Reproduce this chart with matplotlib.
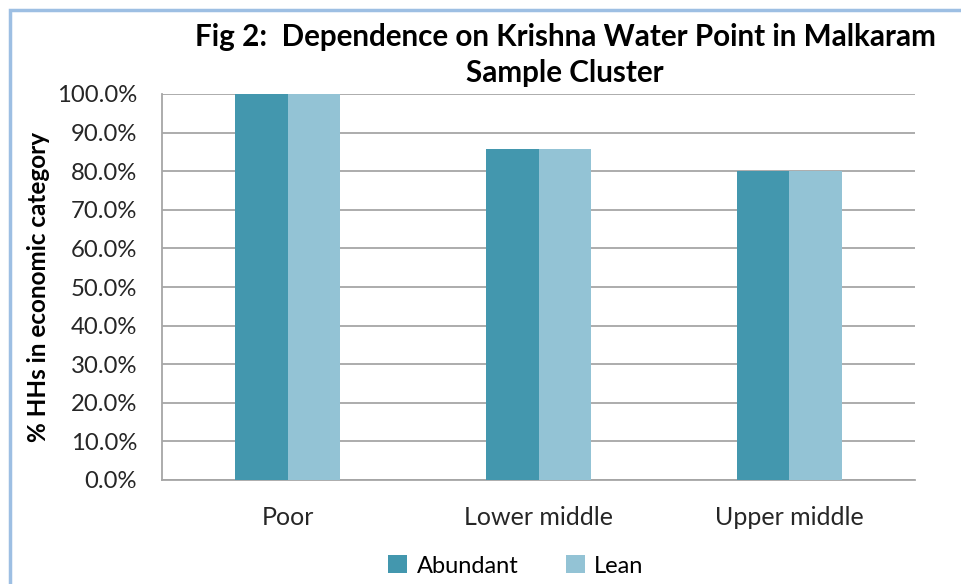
import numpy as np
import matplotlib
matplotlib.use("Agg")
import matplotlib.pyplot as plt
from matplotlib.patches import Rectangle

plt.rcParams['font.family'] = ['Lato', 'DejaVu Sans']

# Veriler
kategoriler = ["Poor", "Lower middle", "Upper middle"]
abundant = [100.0, 85.7, 80.0]
lean = [100.0, 85.7, 80.0]
y_ticks = [0, 10, 20, 30, 40, 50, 60, 70, 80, 90, 100]

fig = plt.figure(figsize=(9.62, 5.84), dpi=100)
ax = fig.add_axes([162/962, 1-480/584, (915-162)/962, (480-94)/584])

x = np.arange(len(kategoriler))
w = 0.21
ax.bar(x - w/2, abundant, w, color="#4397ae", label="Abundant", zorder=3)
ax.bar(x + w/2, lean, w, color="#93c3d5", label="Lean", zorder=3)

ax.set_xlim(-0.5, 2.5)
ax.set_ylim(0, 100)
ax.set_yticks(y_ticks)
ax.set_yticklabels([f"{v:.1f}%" for v in y_ticks], fontsize=17.2, color="#262626")
ax.set_xticks(x)
ax.set_xticklabels(kategoriler, fontsize=18, color="#262626")
ax.tick_params(axis="y", length=0, pad=18)
ax.tick_params(axis="x", length=0, pad=19)
ax.grid(axis="y", color="#a6a6a6", linewidth=1.3, zorder=0)
for s in ["top", "right"]:
    ax.spines[s].set_visible(False)
for s in ["left", "bottom"]:
    ax.spines[s].set_color("#a6a6a6")
    ax.spines[s].set_linewidth(1.3)

ax.set_ylabel("% HHs in economic category", fontsize=17.5, fontweight="bold")
ax.yaxis.set_label_coords((50-162)/753, 0.5)

fig.text(565/962, 1-37/584, "Fig 2:  Dependence on Krishna Water Point in Malkaram",
         ha="center", va="center", fontsize=21.3, fontweight="bold")
fig.text(565/962, 1-73/584, "Sample Cluster",
         ha="center", va="center", fontsize=21.3, fontweight="bold")

fig.legend(loc="center", bbox_to_anchor=(516/962, 1-566/584), ncol=2, frameon=False,
           fontsize=17, handlelength=0.8, handleheight=0.8, columnspacing=2.0,
           handletextpad=0.4)

# Çerçeve
fig.patches.append(Rectangle((10/962, -0.5), 2, 1 - 10/584 + 0.5, transform=fig.transFigure,
                             fill=False, edgecolor="#9dbfe3", linewidth=2.5))

fig.savefig("out.png", dpi=100)
